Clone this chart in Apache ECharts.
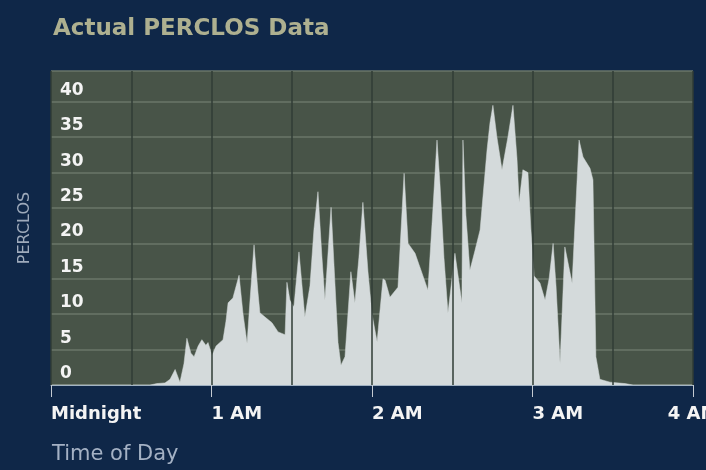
<!DOCTYPE html>
<html>
<head>
<meta charset="utf-8">
<script src="https://cdn.jsdelivr.net/npm/echarts@6/dist/echarts.min.js"></script>
<style>
  html, body { margin: 0; padding: 0; background: #0f2748; }
  #chart { width: 706px; height: 470px; }
</style>
</head>
<body>
<div id="chart"></div>
<script>
// minutes after midnight
const minutes = [0, 37.0, 39.6, 42.6, 44.5, 46.4, 48.2, 49.7, 50.8, 52.3, 53.5, 55.0, 56.4, 57.9, 58.7, 60.2, 61.7, 64.3, 65.4, 66.2, 68.0, 70.3, 71.8, 73.3, 74.4, 75.9, 77.4, 78.1, 80.0, 82.6, 84.9, 87.5, 88.2, 89.3, 90.8, 92.7, 94.9, 96.8, 98.3, 99.8, 101.3, 102.4, 104.7, 106.2, 107.3, 108.4, 109.9, 112.1, 113.6, 115.1, 116.6, 118.5, 120.0, 121.9, 124.1, 124.9, 126.7, 129.7, 132.0, 133.5, 136.1, 138.7, 140.9, 142.8, 144.3, 145.4, 146.9, 148.4, 151.0, 153.6, 154.0, 155.1, 156.6, 158.5, 160.4, 163.0, 164.1, 165.2, 166.7, 168.6, 170.8, 172.7, 174.2, 175.0, 176.4, 178.3, 179.4, 180.6, 182.8, 184.7, 186.2, 187.7, 188.8, 190.3, 192.1, 194.8, 197.4, 198.9, 201.5, 202.6, 203.7, 205.2, 209.0, 214.6, 217.6, 240];
const perclos = [0, 0, 0.2, 0.3, 0.8, 2.2, 0.4, 3, 6.6, 4.5, 4, 5.5, 6.4, 5.6, 6, 4.2, 5.5, 6.4, 9, 11.6, 12.3, 15.5, 10, 5.9, 12, 19.8, 13, 10.2, 9.6, 8.8, 7.5, 7.1, 14.5, 12, 11, 18.8, 9.6, 14, 22, 27.3, 18, 12, 25.1, 14, 6, 2.8, 4, 16, 11.6, 18, 25.8, 16, 10, 6.1, 15, 14.8, 12.4, 13.8, 29.9, 20, 18.6, 15.8, 13.4, 25, 34.6, 28.5, 18, 10.2, 18.6, 11.6, 34.6, 24, 16.2, 19, 21.9, 33.2, 37, 39.5, 35, 30.4, 35, 39.5, 32, 25.8, 30.4, 30, 22, 15.4, 14.4, 12, 15, 20, 14, 3.1, 19.5, 14.4, 34.6, 32.2, 30.6, 29, 4, 0.8, 0.4, 0.2, 0, 0];
const hourTicks = [0, 60, 120, 180, 240];
const hourLabels = ['Midnight', '1 AM', '2 AM', '3 AM', '4 AM'];
const yTicks = [0, 5, 10, 15, 20, 25, 30, 35, 40];

const chart = echarts.init(document.getElementById('chart'), null, { renderer: 'canvas' });
const seriesData = minutes.map((m, i) => [m, perclos[i]]);

chart.setOption({
  backgroundColor: '#0f2748',
  animation: false,
  title: [
    { text: 'Actual PERCLOS Data', left: 48, top: 13,
      textStyle: { color: '#aeb090', fontSize: 23, fontWeight: 'bold', fontFamily: 'DejaVu Sans' } },
    { text: 'Time of Day', left: 47, top: 439,
      textStyle: { color: '#a4b1c4', fontSize: 21, fontWeight: 'normal', fontFamily: 'DejaVu Sans' } }
  ],
  grid: { left: 51, right: 13, top: 71, bottom: 85, show: true, backgroundColor: '#485448', borderWidth: 0,
          outerBoundsMode: 'none', containLabel: false },
  xAxis: [
    {
      type: 'value', min: 0, max: 240, interval: 60,
      axisLine: { show: true, lineStyle: { color: '#9fb0c2', width: 1 } },
      axisTick: { show: true, length: 12, lineStyle: { color: '#c4cad2', width: 1 } },
      splitLine: { show: false },
      axisLabel: {
        color: '#f4f4f4', fontSize: 18, fontWeight: 'bold', fontFamily: 'DejaVu Sans',
        margin: 20, align: 'left', alignMaxLabel: 'center', hideOverlap: false,
        formatter: v => { const i = hourTicks.indexOf(v); return i >= 0 ? hourLabels[i] : ''; }
      }
    },
    {
      type: 'value', min: 0, max: 240, interval: 30, z: 5,
      axisLine: { show: false }, axisTick: { show: false }, axisLabel: { show: false },
      splitLine: { show: true, lineStyle: { color: '#313d36', width: 1.5 } }
    }
  ],
  yAxis: {
    type: 'value', min: 0, max: 44.35, interval: 5,
    name: 'PERCLOS', nameLocation: 'middle', nameGap: 18, nameRotate: 90,
    nameTextStyle: { color: '#9eaabb', fontSize: 16, fontFamily: 'DejaVu Sans' },
    axisLine: { show: false }, axisTick: { show: false },
    splitLine: { show: true, lineStyle: { color: '#6a7669', width: 1.5 } },
    axisLabel: {
      inside: true, margin: 9, color: '#f4f4f4', fontSize: 17, fontWeight: 'bold', fontFamily: 'DejaVu Sans',
      verticalAlign: 'bottom', padding: [0, 0, 3, 0], showMaxLabel: false,
      formatter: v => (yTicks.indexOf(v) >= 0 ? String(v) : '')
    }
  },
  series: [{
    type: 'line', xAxisIndex: 0, data: seriesData, showSymbol: false, symbol: 'none',
    lineStyle: { width: 0.5, color: '#d4dadb' },
    areaStyle: { color: '#d4dadb', opacity: 1 },
    z: 2
  }]
});
</script>
</body>
</html>
